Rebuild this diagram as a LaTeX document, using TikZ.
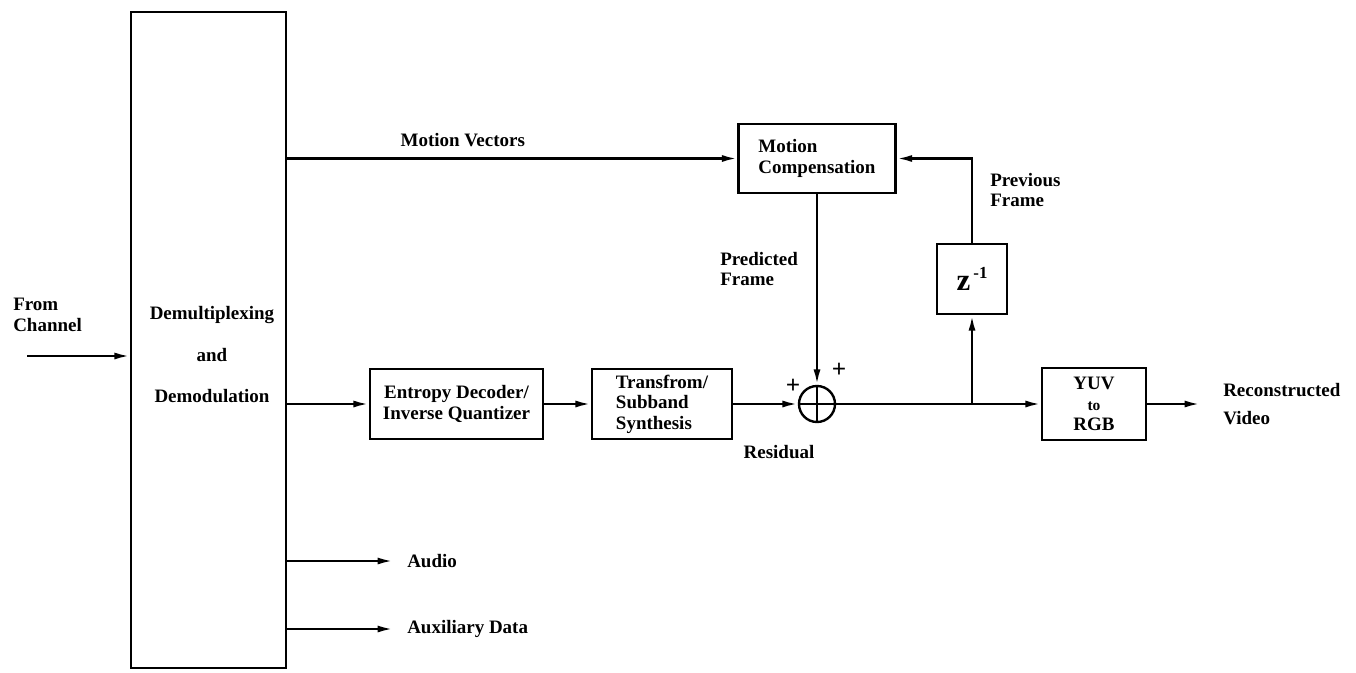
\documentclass[tikz,border=0pt]{standalone}
\usepackage{fontspec}
\setmainfont{Liberation Serif}
\usepackage{tikz}
\usetikzlibrary{arrows.meta,positioning}
\newcommand{\diagfont}{\fontsize{13.5}{14.5}\selectfont\bfseries}

\begin{document}
\begin{tikzpicture}[x=0.025cm,y=-0.025cm,
  block/.style={draw,rectangle,line width=1.7pt,font=\diagfont,align=center,inner sep=2pt},
  summer/.style={draw,circle,line width=1.7pt,minimum size=0.9cm,inner sep=0pt},
  arr/.style={-{Latex[length=11pt,width=5pt]},line width=1.7pt},
  wire/.style={line width=1.7pt},
  lbl/.style={font=\diagfont,inner sep=0pt,align=left},
  sign/.style={font=\fontsize{18}{18}\selectfont\bfseries,inner sep=0pt}
]
\useasboundingbox (0,0) rectangle (1356,672);

% Demultiplexer (left)
\node[block,minimum width=3.875cm,minimum height=16.4cm] (demux) at (208.5,340) {};
\node[lbl,align=center] (demuxtxt) at (212,355) {Demultiplexing\\[15pt]and\\[15pt]Demodulation};

% Input
\node[lbl,anchor=west] (chan) at (13,315) {From\\Channel};
\coordinate (chanin) at (27,356);

% Decoder chain (middle row)
\node[block,minimum width=4.325cm,minimum height=1.75cm] (ent) at (456.5,404) {Entropy Decoder/\\Inverse Quantizer};
\node[block,minimum width=3.5cm,minimum height=1.75cm,align=left] (tsyn) at (662,404) {Transfrom/\\Subband\\Synthesis};
\node[summer] (sum) at (817,404) {};
\node[block,minimum width=2.6cm,minimum height=1.8cm] (yuv) at (1094,404) {YUV\\{\fontsize{11}{12}\selectfont to}\\RGB};

% Motion compensation loop (top)
\node[block,minimum width=3.925cm,minimum height=1.725cm,align=left] (mc) at (817,158.5) {Motion\\Compensation};
\node[block,minimum width=1.75cm,minimum height=1.75cm] (zinv) at (972,279) {{\fontsize{22}{22}\selectfont z}\,\raisebox{9pt}{\fontsize{12}{12}\selectfont -1}};

\coordinate (split) at (zinv |- sum);
\coordinate (vidout) at (1200,404);
\coordinate (audio) at (393,561);
\coordinate (aux) at (393,629);

% Labels
\node[lbl,anchor=west] (pred) at (720,269) {Predicted\\Frame};
\node[lbl,anchor=west] (prev) at (990,190) {Previous\\Frame};
\node[lbl] (resid) at (779,452) {Residual};
\node[lbl,anchor=west] (recon) at (1223,404) {Reconstructed\\[6pt]Video};
\node[sign] (plusl) at (793,386) {+};
\node[sign] (plust) at (839,370) {+};

% Arrows
\draw[arr] (chanin) -- (demux.west |- chanin);
\draw[arr] (demux.east |- mc.west) -- node[lbl,pos=0.39,above=7.5pt] (mvlbl) {Motion Vectors} (mc.west);
\draw[arr] (demux.east |- ent.west) -- (ent.west);
\draw[arr] (ent) -- (tsyn);
\draw[arr] (tsyn) -- (sum);
\draw[arr] (mc) -- (sum);
\draw[wire] (sum.north) -- (sum.south) (sum.west) -- (sum.east);
\draw[wire] (sum) -- (split);
\draw[arr] (split) -- (yuv);
\draw[arr] (split) -- (zinv);
\draw[arr] (zinv) |- (mc);
\draw[arr] (yuv) -- (vidout);
\draw[arr] (demux.east |- audio) -- (audio);
\draw[arr] (demux.east |- aux) -- (aux);

% Outputs
\node[lbl,anchor=west] (audiolbl) at (407,561) {Audio};
\node[lbl,anchor=west] (auxlbl) at (407,629) {Auxiliary Data};

\end{tikzpicture}
\end{document}
